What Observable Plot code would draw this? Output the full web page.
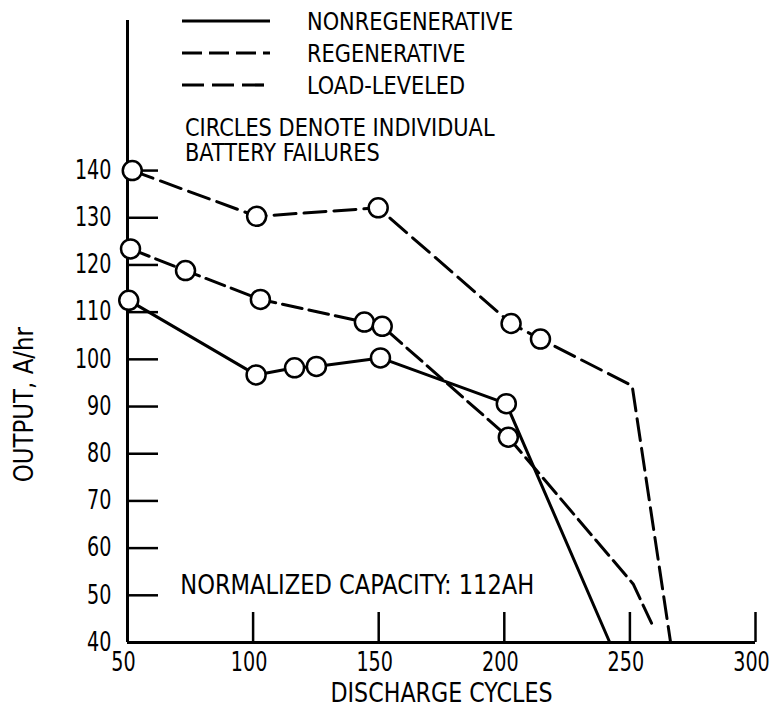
<!DOCTYPE html>
<html>
<head>
<meta charset="utf-8">
<script src="https://cdn.jsdelivr.net/npm/d3@7"></script>
<script src="https://cdn.jsdelivr.net/npm/@observablehq/plot@0.6"></script>
<style>
  html, body { margin: 0; padding: 0; background: #fff; }
  #wrap { position: relative; width: 770px; height: 709px; overflow: hidden;
          font-family: 'Liberation Sans Narrow', 'DejaVu Sans Condensed', 'Liberation Sans', sans-serif; color: #000; }
  #legend { position: absolute; left: 182px; top: 5px; }
  .row { display: flex; align-items: center; height: 32px; }
  .row span { display: inline-block; margin-left: 37px; font-size: 25px; white-space: nowrap;
              transform: scaleX(0.93); transform-origin: left center; }
  #note { position: absolute; left: 185px; top: 115px; font-size: 25px; line-height: 25px; white-space: nowrap;
          transform: scaleX(0.93); transform-origin: left top; }
</style>
</head>
<body>
<div id="wrap"></div>
<script>
// ---- data ----
const seriesNames = ["NONREGENERATIVE", "REGENERATIVE", "LOAD-LEVELED"];
const seriesDash  = [null, "20,7", "22,8"];

const nonregenCycles = [50.5, 101.2, 116.5, 125.2, 150.7, 200.8, 242.0];
const nonregenOutput = [112.5, 96.7, 98.2, 98.5, 100.3, 90.6, 40.0];
const nonregenFailure = [1, 1, 1, 1, 1, 1, 0];

const regenCycles = [51.2, 73.1, 102.9, 144.3, 151.4, 201.6, 251.3, 259.5];
const regenOutput = [123.4, 118.8, 112.7, 107.9, 107.0, 83.5, 52.4, 43.1];
const regenFailure = [1, 1, 1, 1, 1, 1, 0, 0];

const loadCycles = [51.9, 101.4, 149.8, 202.7, 214.4, 250.9, 266.2];
const loadOutput = [140.0, 130.3, 132.1, 107.6, 104.3, 94.4, 40.0];
const loadFailure = [1, 1, 1, 1, 1, 0, 0];

const xTicks = [50, 100, 150, 200, 250, 300];
const yTicks = [40, 50, 60, 70, 80, 90, 100, 110, 120, 130, 140];

const xTitle = "DISCHARGE CYCLES";
const yTitle = "OUTPUT, A/hr";
const noteLines = ["CIRCLES DENOTE INDIVIDUAL", "BATTERY FAILURES"];
const annotation = "NORMALIZED CAPACITY: 112AH";

// ---- build table ----
const raw = [
  [nonregenCycles, nonregenOutput, nonregenFailure],
  [regenCycles, regenOutput, regenFailure],
  [loadCycles, loadOutput, loadFailure]
];
const rows = [];
raw.forEach(([xs, ys, fs], i) => xs.forEach((x, j) => rows.push({series: seriesNames[i], cycles: x, output: ys[j], failure: !!fs[j]})));

const font = "'Liberation Sans Narrow', 'DejaVu Sans Condensed', 'Liberation Sans', sans-serif";

const lineMarks = seriesNames.map((name, i) => Plot.line(rows.filter(d => d.series === name), {
  x: "cycles", y: "output", stroke: "black", strokeWidth: 3,
  strokeDasharray: seriesDash[i] || undefined, strokeLinejoin: "round"
}));

const chart = Plot.plot({
  width: 770, height: 709,
  marginTop: 20, marginBottom: 67, marginLeft: 127, marginRight: 15,
  style: {fontFamily: font, background: "white", color: "black"},
  x: {domain: [50, 300]},
  y: {domain: [40, 171.8]},
  marks: [
    Plot.axisY(yTicks, {anchor: "left", tickSize: 0, tickPadding: 16, fontSize: 26, label: null}),
    Plot.axisY(yTicks, {anchor: "left", tickSize: 31, dx: 31, tickFormat: () => "", label: null, strokeWidth: 2.5}),
    Plot.axisX(xTicks, {anchor: "bottom", tickSize: 0, tickPadding: 10, dx: -4, fontSize: 26, label: null}),
    Plot.axisX(xTicks.filter(d => d > 50), {anchor: "bottom", tickSize: 30, dy: -30, tickFormat: () => "", label: null, strokeWidth: 2.5}),
    Plot.ruleX([50], {strokeWidth: 3}),
    Plot.ruleY([40], {strokeWidth: 3}),
    Plot.text([xTitle], {frameAnchor: "bottom", dy: 51, fontSize: 26, lineAnchor: "middle", textAnchor: "middle"}),
    Plot.text([yTitle], {y: 90.4, frameAnchor: "left", dx: -103, rotate: -90, fontSize: 26, lineAnchor: "middle", textAnchor: "middle"}),
    Plot.text([annotation], {x: 71, y: 52.1, textAnchor: "start", fontSize: 27, lineAnchor: "middle"}),
    ...lineMarks,
    Plot.dot(rows.filter(d => d.failure), {x: "cycles", y: "output", r: 9.5, fill: "white", stroke: "black", strokeWidth: 2.5})
  ]
});

// condense SVG text horizontally (the reference uses a narrow lettering)
function condense(sel, k) {
  sel.each(function() {
    const t = d3.select(this);
    const tr = t.attr("transform") || "";
    t.attr("transform", `${tr} scale(${k},1)`);
  });
}
const svgSel = d3.select(chart);
const allText = svgSel.selectAll("text");
const tickLabelSet = new Set([...xTicks, ...yTicks].map(String));
condense(allText.filter(function() { return tickLabelSet.has(this.textContent.trim()); }), 0.82);
condense(allText.filter(function() { return this.textContent.trim() === xTitle; }), 0.95);
condense(allText.filter(function() { return this.textContent.trim() === yTitle; }), 0.98);
condense(allText.filter(function() { return this.textContent.trim() === annotation; }), 0.93);

const wrap = document.getElementById("wrap");
wrap.appendChild(chart);

// legend overlay
const legend = d3.select(wrap).append("div").attr("id", "legend");
seriesNames.forEach((name, i) => {
  const row = legend.append("div").attr("class", "row");
  const svg = row.append("svg").attr("width", 88).attr("height", 10);
  svg.append("line").attr("x1", 0).attr("x2", 88).attr("y1", 5).attr("y2", 5)
    .attr("stroke", "black").attr("stroke-width", 3.2)
    .attr("stroke-dasharray", seriesDash[i]);
  row.append("span").text(name);
});
const note = d3.select(wrap).append("div").attr("id", "note");
noteLines.forEach(t => note.append("div").text(t));
</script>
</body>
</html>
